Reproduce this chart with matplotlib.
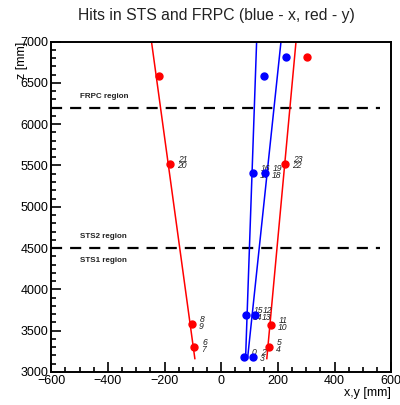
import matplotlib.pyplot as plt
from matplotlib.ticker import MultipleLocator

plt.rcParams['font.family'] = ['Liberation Sans', 'DejaVu Sans']

# hits (transverse position in mm, z in mm)
x_hits_xy = [79, 111, 86, 118, 111, 154]
x_hits_z = [3181, 3181, 3687, 3687, 5410, 5410]
x_hits_upper = ['0', '2', '15', '12', '16', '19']
x_hits_lower = ['1', '3', '14', '13', '17', '18']

y_hits_xy = [168, -96, -104, 175, -182, 225]
y_hits_z = [3300, 3300, 3578, 3566, 5520, 5520]
y_hits_upper = ['5', '6', '8', '11', '21', '23']
y_hits_lower = ['4', '7', '9', '10', '20', '22']

# FRPC hits (no labels)
frpc_x_xy = [150, 229]
frpc_x_z = [6590, 6820]
frpc_y_xy = [-218, 304]
frpc_y_z = [6590, 6820]

# fitted tracks: (xy at z_start, xy at z_end)
track_z = [3160, 7000]
blue_tracks = [[86, 125], [93, 211]]
red_tracks = [[-93, -246], [161, 264]]

region_lines = [6200, 4500]
region_texts = [('FRPC region', 6340), ('STS2 region', 4640), ('STS1 region', 4350)]

fig = plt.figure(figsize=(4, 4.05), dpi=100)
ax = fig.add_axes([0.128, 0.082, 0.85, 0.815])

for tr in blue_tracks:
    ax.plot(tr, track_z, color='#0000ff', lw=1.1, zorder=2)
for tr in red_tracks:
    ax.plot(tr, track_z, color='#ff0000', lw=1.1, zorder=2)

for z in region_lines:
    ax.plot([-600, 560], [z, z], color='black', lw=1.6, dashes=(5, 3.6), zorder=1)
for txt, z in region_texts:
    ax.text(-500, z, txt, fontsize=5.8, fontweight='bold', color='#222222', va='center')

def label_hits(xs, zs, up, lo):
    for x, z, u, l in zip(xs, zs, up, lo):
        ax.annotate(u, (x, z), xytext=(6, 3), textcoords='offset points',
                    fontsize=6.2, style='italic', color='#222222', va='center', zorder=3)
        ax.annotate(l, (x, z), xytext=(5, -1.5), textcoords='offset points',
                    fontsize=6.2, style='italic', color='#222222', va='center', zorder=3)

label_hits(x_hits_xy, x_hits_z, x_hits_upper, x_hits_lower)
label_hits(y_hits_xy, y_hits_z, y_hits_upper, y_hits_lower)

ax.plot(x_hits_xy + frpc_x_xy, x_hits_z + frpc_x_z, 'o', color='#0000ff', ms=5, zorder=4)
ax.plot(y_hits_xy + frpc_y_xy, y_hits_z + frpc_y_z, 'o', color='#ff0000', ms=5, zorder=4)

ax.set_xlim(-600, 600)
ax.set_ylim(3000, 7000)
ax.xaxis.set_major_locator(MultipleLocator(200))
ax.xaxis.set_minor_locator(MultipleLocator(50))
ax.yaxis.set_major_locator(MultipleLocator(500))
ax.yaxis.set_minor_locator(MultipleLocator(100))
ax.tick_params(which='both', direction='in', top=False, right=False, width=1.2,
               labelsize=9, pad=2)
ax.tick_params(which='major', length=7)
ax.tick_params(which='minor', length=3.5)
for s in ax.spines.values():
    s.set_linewidth(1.4)

fig.text(0.54, 0.962, 'Hits in STS and FRPC (blue - x, red - y)', ha='center', va='center',
         fontsize=11.3, color='#222222')
fig.text(0.978, 0.015, 'x,y [mm]', ha='right', va='bottom', fontsize=9)
fig.text(0.055, 0.897, 'z [mm]', ha='center', va='top', rotation=90, fontsize=9)

fig.savefig('out.png', dpi=100)
